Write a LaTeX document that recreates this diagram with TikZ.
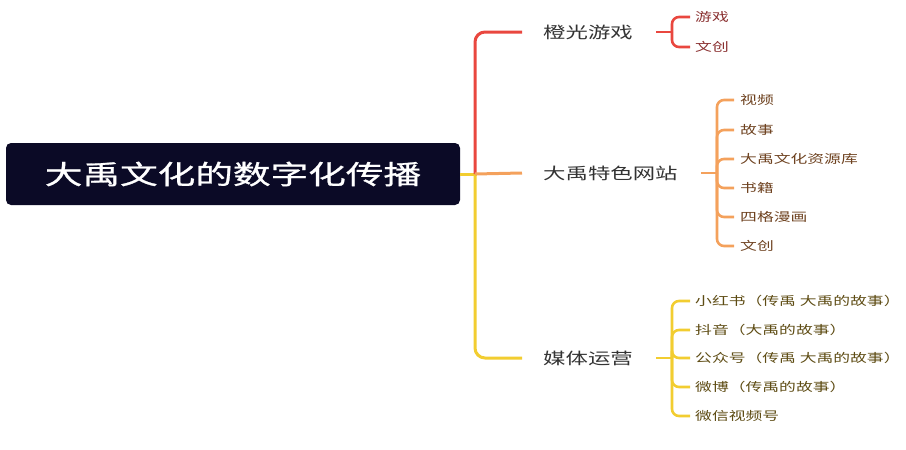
\documentclass[tikz,border=0pt]{standalone}
\usepackage{fontspec}
\setmainfont{Noto Sans CJK SC}[FakeStretch=1.4]
\newfontfamily\rootfont{Noto Sans CJK SC}[FakeStretch=1.42, FakeBold=1]
\usepackage{xcolor}
\usepackage{tikz}
\usetikzlibrary{positioning}

\definecolor{rootbg}{HTML}{0B0A26}
\definecolor{redline}{HTML}{E9473F}
\definecolor{orangeline}{HTML}{F4A15C}
\definecolor{yellowline}{HTML}{F2CD30}
\definecolor{redtext}{HTML}{8A3030}
\definecolor{orangetext}{HTML}{6E4220}
\definecolor{yellowtext}{HTML}{5E4C14}

\tikzset{
  branch/.style={line width=3pt, rounded corners=10pt},
  twig/.style={line width=2.6pt, rounded corners=7pt},
  topic/.style={anchor=west, inner sep=0pt, text=black!80, font=\fontsize{16}{16}\selectfont},
  leaf/.style={anchor=west, inner sep=0pt, font=\fontsize{12}{12}\selectfont},
}

\begin{document}
\begin{tikzpicture}[x=1pt, y=-1pt]
\useasboundingbox (0,0) rectangle (906,450);

% Root
\node[fill=rootbg, rounded corners=5pt, minimum width=454pt, minimum height=62pt, text=white, font=\fontsize{26.5}{26.5}\rootfont] (root) at (233,174) {大禹文化的数字化传播};
\coordinate (spine) at (475,174);

% Topics
\node[topic] (game) at (543,32) {橙光游戏};
\node[topic] (site) at (543,173) {大禹特色网站};
\node[topic] (media) at (543,358) {媒体运营};

\draw[branch, yellowline] (root.east) -- ([xshift=1.5pt]spine);
\draw[branch, yellowline] (spine) |- ([xshift=-21pt]media.west);
\draw[branch, redline] (spine) |- ([xshift=-21pt]game.west);
\draw[branch, orangeline] (spine) -- ([xshift=-21pt]site.west);

% 橙光游戏
\coordinate (gamefork) at (672,32);
\draw[twig, redline] ([xshift=23pt]game.east) -- (gamefork);
\foreach \y/\t [count=\i] in {17/游戏, 47/文创} {
    \node[leaf, text=redtext] (game\i) at (695,\y) {\t};
    \draw[twig, redline] (gamefork) |- ([xshift=-5pt]game\i.west);
}

% 大禹特色网站
\coordinate (sitefork) at (717,173);
\draw[twig, orangeline] ([xshift=23pt]site.east) -- (sitefork);
\foreach \y/\t [count=\i] in {100/视频, 130/故事, 159/大禹文化资源库, 188/书籍, 217/四格漫画, 246/文创} {
    \node[leaf, text=orangetext] (site\i) at (740,\y) {\t};
    \draw[twig, orangeline] (sitefork) |- ([xshift=-6pt]site\i.west);
}

% 媒体运营
\coordinate (mediafork) at (672,358);
\draw[twig, yellowline] ([xshift=23pt]media.east) -- (mediafork);
\foreach \y/\t [count=\i] in {301/小红书（传禹 大禹的故事）, 330/抖音（大禹的故事）, 358/公众号（传禹 大禹的故事）, 387/微博（传禹的故事）, 416/微信视频号} {
    \node[leaf, text=yellowtext] (media\i) at (695,\y) {\t};
    \draw[twig, yellowline] (mediafork) |- ([xshift=-5pt]media\i.west);
}
\end{tikzpicture}
\end{document}
